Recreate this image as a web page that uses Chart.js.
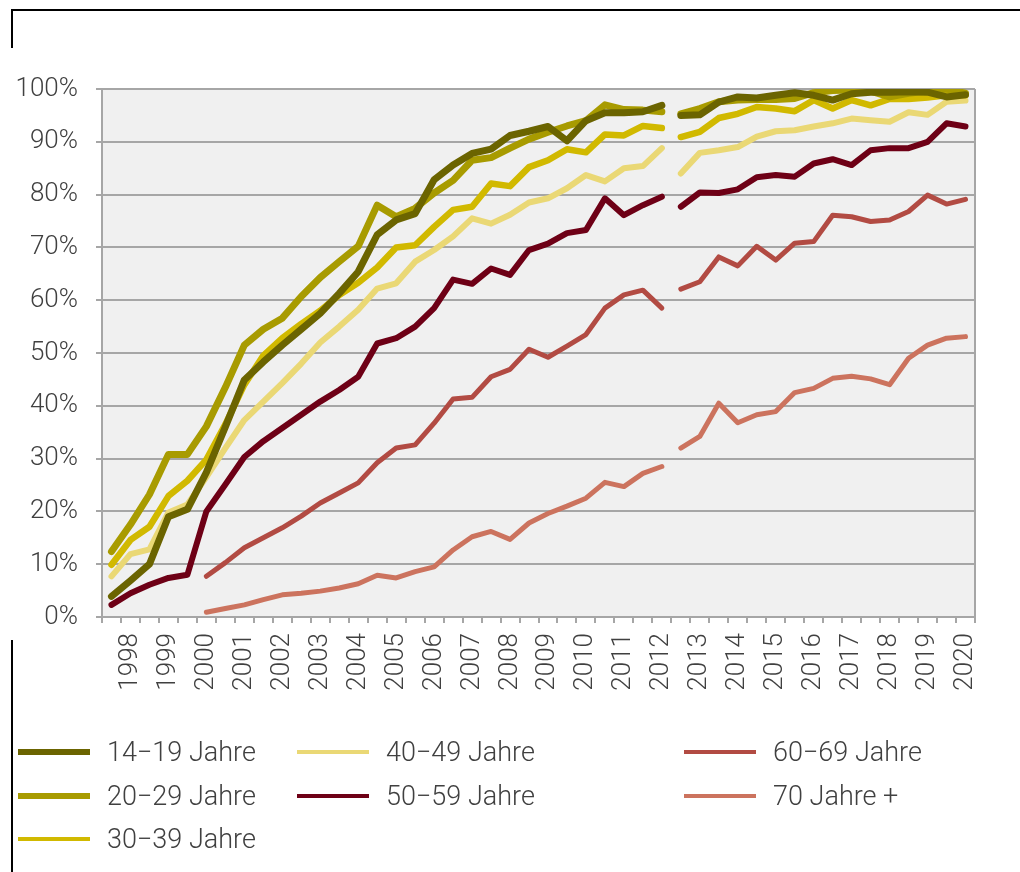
<!DOCTYPE html>
<html>
<head>
<meta charset="utf-8">
<script src="https://cdn.jsdelivr.net/npm/chart.js@4.4.1/dist/chart.umd.min.js"></script>
<style>
  html, body { margin: 0; padding: 0; background: #ffffff; }
  #wrap { position: relative; width: 1020px; height: 872px; overflow: hidden; }
  #c { position: absolute; left: 0; top: 0; }
  #legend { position: absolute; left: 0; top: 0; width: 1020px; height: 872px; pointer-events: none;
            font-family: Roboto, 'Liberation Sans', sans-serif; font-weight: 300; font-size: 27px; color: #404040; }
  .item { position: absolute; height: 34px; display: flex; align-items: center; white-space: nowrap; }
  .sw { width: 72px; margin-right: 17px; }
</style>
</head>
<body>
<div id="wrap">
  <canvas id="c" width="1020" height="872"></canvas>
  <div id="legend"></div>
</div>
<script>
// ---- Data (two survey waves per year; the series break after 2012) ----
const years = [1998,1999,2000,2001,2002,2003,2004,2005,2006,2007,2008,2009,2010,2011,2012,2013,2014,2015,2016,2017,2018,2019,2020];
const seriesNames = ['14\u221219 Jahre','20\u221229 Jahre','30\u221239 Jahre','40\u221249 Jahre','50\u221259 Jahre','60\u221269 Jahre','70 Jahre +'];
const lastIndexBeforeBreak = 29;

const age14_19 = [3.9,6.9,10.0,19.0,20.4,27.4,36.0,44.9,48.3,51.5,54.5,57.5,61.3,65.4,72.4,75.2,76.4,82.8,85.6,87.8,88.6,91.2,92.0,92.9,90.2,94.0,95.5,95.5,95.7,96.9,
                  95.0,95.1,97.5,98.5,98.3,98.8,99.3,98.8,97.9,99.1,99.4,99.4,99.5,99.4,98.5,98.9];
const age20_29 = [12.4,17.5,23.2,30.8,30.8,36.1,43.5,51.5,54.5,56.6,60.7,64.3,67.3,70.2,78.0,75.8,77.4,80.3,82.7,86.5,87.0,88.8,90.5,91.8,93.0,94.0,97.0,96.1,96.0,95.7,
                  95.3,96.3,97.6,97.9,98.0,98.0,98.2,99.3,99.7,99.8,99.6,98.5,99.2,99.6,100,99.2];
const age30_39 = [9.9,14.6,17.1,22.9,25.8,29.8,36.5,44.0,49.5,52.8,55.5,58.0,61.0,63.3,66.2,70.0,70.4,73.9,77.1,77.7,82.1,81.6,85.2,86.5,88.6,88.0,91.4,91.2,93.0,92.6,
                  90.9,91.9,94.5,95.3,96.6,96.3,95.8,97.9,96.3,97.9,96.9,98.1,98.1,98.4,98.8,98.8];
const age40_49 = [7.7,11.9,12.8,19.8,21.3,26.5,32.0,37.3,40.8,44.3,48.0,52.0,55.0,58.2,62.2,63.2,67.3,69.5,72.1,75.5,74.5,76.2,78.5,79.3,81.2,83.7,82.5,85.0,85.4,88.8,
                  84.0,87.9,88.4,89.0,91.0,92.0,92.2,92.9,93.5,94.4,94.1,93.8,95.6,95.1,97.6,97.8];
const age50_59 = [2.3,4.5,6.1,7.4,8.0,20.0,25.1,30.3,33.3,35.8,38.3,40.8,43.0,45.5,51.8,52.8,55.0,58.5,63.9,63.1,66.0,64.8,69.5,70.7,72.7,73.3,79.3,76.1,78.0,79.6,
                  77.7,80.4,80.3,81.0,83.3,83.7,83.4,85.9,86.7,85.6,88.4,88.8,88.8,90.0,93.5,92.9];
const age60_69 = [null,null,null,null,null,7.7,10.3,13.1,15.0,16.9,19.1,21.6,23.5,25.4,29.2,32.0,32.6,36.7,41.3,41.6,45.5,46.9,50.7,49.2,51.3,53.5,58.5,61.0,61.9,58.5,
                  62.1,63.5,68.2,66.5,70.2,67.6,70.8,71.1,76.1,75.8,74.9,75.2,76.8,79.9,78.2,79.1];
const age70plus = [null,null,null,null,null,0.9,1.6,2.3,3.3,4.2,4.5,4.9,5.5,6.3,7.9,7.4,8.6,9.5,12.7,15.2,16.2,14.7,17.8,19.6,21.0,22.5,25.5,24.7,27.2,28.5,
                  32.0,34.2,40.5,36.8,38.3,38.9,42.5,43.3,45.2,45.6,45.1,44.0,49.0,51.5,52.8,53.1];
const yTicks = [0,10,20,30,40,50,60,70,80,90,100];

// ---- Styles ----
const seriesValues = [age14_19, age20_29, age30_39, age40_49, age50_59, age60_69, age70plus];
const colors = ['#6b6400','#a89b00','#d1b900','#ead875','#6e0016','#b24b43','#cc735e'];
const lineWidths = [7,7,6.5,6,6,5,5];
const swatchWidths = [6,6,4,4,4,4,4];

// two survey points per year, the year label sits on the second one
const labels = [];
years.forEach(y => { labels.push(''); labels.push(String(y)); });

const FONT = { family: "Roboto, 'Liberation Sans', sans-serif", size: 26, weight: '300' };
const GRID = '#a6a6a6';

const datasets = seriesValues.map((vals, i) => ({
  label: seriesNames[i],
  data: vals,
  borderColor: colors[i],
  backgroundColor: colors[i],
  borderWidth: lineWidths[i],
  pointRadius: 0,
  tension: 0,
  fill: false,
  borderCapStyle: 'round',
  borderJoinStyle: 'round',
  segment: {
    borderColor: ctx => ctx.p0DataIndex === lastIndexBeforeBreak ? 'rgba(0,0,0,0)' : undefined
  }
}));

const decor = {
  id: 'decor',
  beforeDraw(chart) {
    const { ctx, chartArea: a } = chart;
    ctx.save();
    ctx.fillStyle = '#f0f0f0';
    ctx.fillRect(a.left, a.top, a.right - a.left, a.bottom - a.top);
    ctx.restore();
  },
  beforeDatasetsDraw(chart) {
    const { ctx, chartArea: a } = chart;
    ctx.save();
    ctx.strokeStyle = GRID;
    ctx.lineWidth = 2;
    ctx.beginPath();
    ctx.moveTo(a.right, a.top);
    ctx.lineTo(a.right, a.bottom + 6);
    ctx.stroke();
    ctx.restore();
  },
  afterDraw(chart) {
    const { ctx } = chart;
    ctx.save();
    ctx.strokeStyle = '#000000';
    ctx.lineWidth = 2;
    ctx.beginPath();
    ctx.moveTo(12, 10); ctx.lineTo(1020, 10);
    ctx.moveTo(12, 9); ctx.lineTo(12, 48);
    ctx.moveTo(12, 640); ctx.lineTo(12, 872);
    ctx.stroke();
    ctx.restore();
  }
};

new Chart(document.getElementById('c'), {
  type: 'line',
  data: { labels, datasets },
  options: {
    responsive: false,
    animation: false,
    events: [],
    layout: { padding: { left: 0, right: 45, top: 89, bottom: 0 } },
    plugins: { legend: { display: false }, tooltip: { enabled: false } },
    scales: {
      x: {
        type: 'category',
        offset: true,
        grid: { display: true, drawOnChartArea: false, drawTicks: true, tickLength: 6, color: GRID, lineWidth: 2, offset: true },
        border: { display: true, color: GRID, width: 2 },
        ticks: { autoSkip: false, maxRotation: 90, minRotation: 90, padding: 10, color: '#404040', font: FONT },
        afterFit(s) { s.height = 872 - 617; s.paddingLeft = 0; s.paddingRight = 0; }
      },
      y: {
        min: 0, max: 100,
        afterBuildTicks(s) { s.ticks = yTicks.map(v => ({ value: v })); },
        ticks: { callback: v => v + '%', padding: 18, color: '#404040', font: FONT },
        grid: { color: GRID, lineWidth: 2, tickLength: 6, drawTicks: true },
        border: { display: true, color: GRID, width: 2 },
        afterFit(s) { s.width = 102; s.paddingTop = 0; s.paddingBottom = 0; }
      }
    }
  },
  plugins: [decor]
});

// ---- Legend (three columns, column-major order) ----
const legendCols = [18, 297, 684];
const legendRows = [752, 796, 839];
const colOf = [0,0,0,1,1,2,2];
const rowOf = [0,1,2,0,1,0,1];
const legend = document.getElementById('legend');
seriesNames.forEach((name, i) => {
  const it = document.createElement('div');
  it.className = 'item';
  it.style.left = legendCols[colOf[i]] + 'px';
  it.style.top = (legendRows[rowOf[i]] - 17) + 'px';
  const sw = document.createElement('span');
  sw.className = 'sw';
  sw.style.height = swatchWidths[i] + 'px';
  sw.style.background = colors[i];
  const tx = document.createElement('span');
  tx.textContent = name;
  it.appendChild(sw);
  it.appendChild(tx);
  legend.appendChild(it);
});
</script>
</body>
</html>
